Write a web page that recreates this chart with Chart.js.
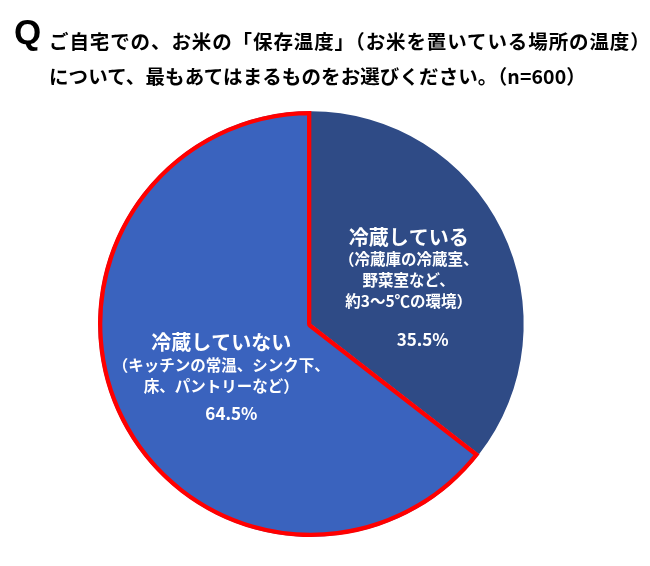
<!DOCTYPE html>
<html>
<head>
<meta charset="utf-8">
<script src="https://cdn.jsdelivr.net/npm/chart.js@4"></script>
<style>
  body { margin: 0; background: #fff; }
  #wrap { position: relative; width: 650px; height: 566px; }
  #q { position: absolute; left: 14px; top: 12px; font: bold 35px "Liberation Sans", Arial, sans-serif; color: #000; }
  .t { position: absolute; left: 49px; font: bold 19.5px "Noto Sans CJK JP", sans-serif; color: #000; white-space: nowrap; letter-spacing: 0.1px; }
  #t1 { top: 26px; letter-spacing: 0.9px; }
  #t2 { top: 61px; }
  canvas { position: absolute; left: 0; top: 0; }
</style>
</head>
<body>
<div id="wrap">
  <canvas id="pieChart" width="650" height="566"></canvas>
  <div id="q">Q</div>
  <div class="t" id="t1">ご自宅での、お米の「保存温度」（お米を置いている場所の温度）</div>
  <div class="t" id="t2">について、最もあてはまるものをお選びください。（n=600）</div>
</div>
<script>
// answers, share in %
const categories = ["冷蔵している", "冷蔵していない"];
const subLabels = [
  ["（冷蔵庫の冷蔵室、", "野菜室など、", "約3～5℃の環境）"],
  ["（キッチンの常温、シンク下、", "床、パントリーなど）"]
];
const shares = [35.5, 64.5];

const sliceColors = ["#2F4B86", "#3A63BE"];

// text layout inside each slice, relative to the slice centroid
const labelLayout = [
  { dx: 2, top: -40, pctDx: 16, pctDy: 62 },
  { dx: 6, top: -28, pctDx: 16, pctDy: 43 }
];

const sliceLabels = {
  id: "sliceLabels",
  afterDatasetsDraw(chart) {
    const ctx = chart.ctx;
    const arcs = chart.getDatasetMeta(0).data;
    ctx.save();
    ctx.fillStyle = "#fff";
    ctx.textAlign = "center";
    ctx.textBaseline = "middle";
    arcs.forEach(function(arc, i) {
      const p = arc.tooltipPosition();
      const lay = labelLayout[i];
      let y = p.y + lay.top;
      ctx.font = "bold 20px 'Noto Sans CJK JP', sans-serif";
      ctx.fillText(categories[i], p.x + lay.dx, y);
      y += 22;
      ctx.font = "bold 15.5px 'Noto Sans CJK JP', sans-serif";
      subLabels[i].forEach(function(line) {
        ctx.fillText(line, p.x + lay.dx, y);
        y += 21;
      });
      ctx.font = "bold 17px 'Noto Sans CJK JP', sans-serif";
      ctx.fillText(shares[i].toFixed(1) + "%", p.x + lay.pctDx, p.y + lay.pctDy);
    });
    ctx.restore();
  }
};

const pieChart = new Chart(document.getElementById("pieChart"), {
  type: "pie",
  data: {
    labels: categories,
    datasets: [
      {
        data: shares,
        backgroundColor: sliceColors,
        borderColor: ["rgba(0,0,0,0)", "#FF0000"],
        borderWidth: [0, 4],
        borderAlign: "inner"
      }
    ]
  },
  options: {
    responsive: false,
    devicePixelRatio: 1,
    animation: false,
    layout: {
      padding: { top: 111, bottom: 29, left: 98, right: 126 }
    },
    plugins: {
      legend: { display: false },
      tooltip: { enabled: false },
      title: { display: false }
    }
  },
  plugins: [sliceLabels]
});
</script>
</body>
</html>
